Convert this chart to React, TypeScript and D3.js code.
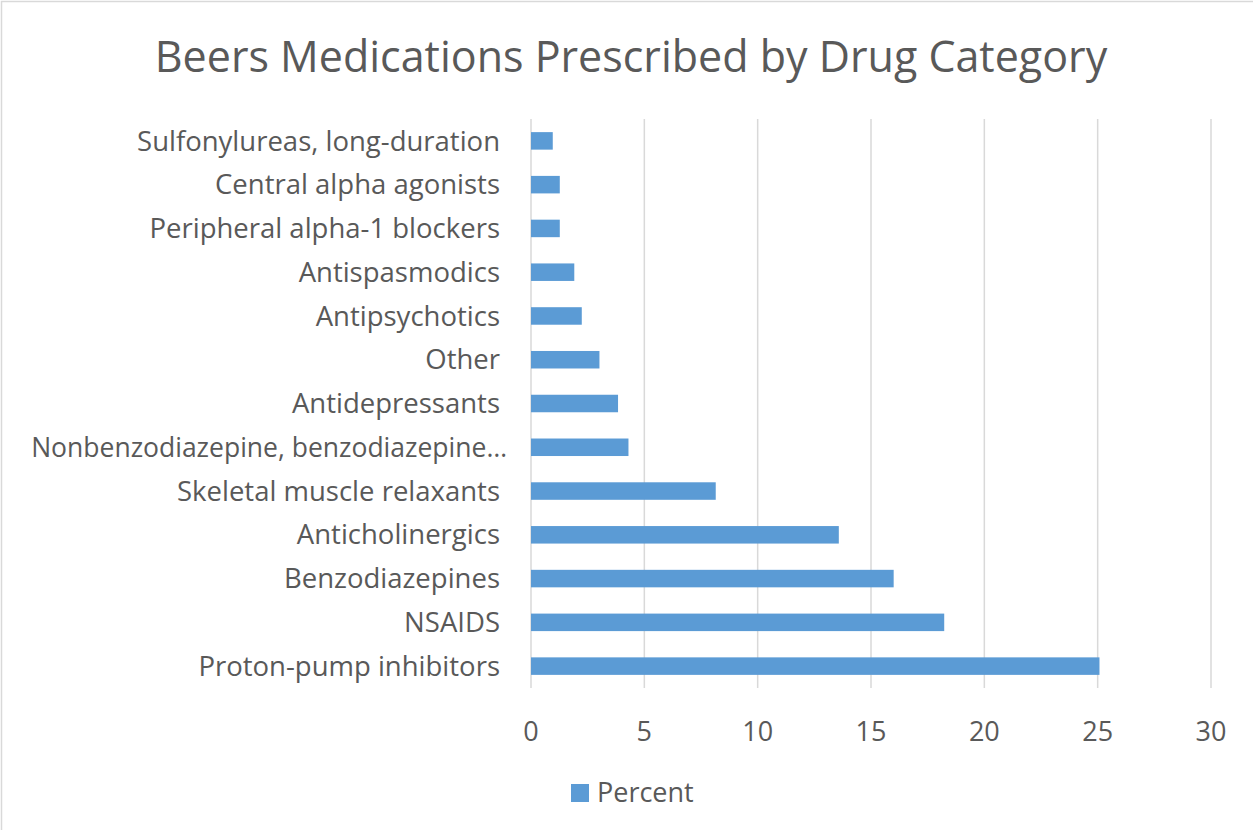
import React from "react";
import * as d3 from "d3";

const categories = [
  "Sulfonylureas, long-duration",
  "Central alpha agonists",
  "Peripheral alpha-1 blockers",
  "Antispasmodics",
  "Antipsychotics",
  "Other",
  "Antidepressants",
  "Nonbenzodiazepine, benzodiazepine…",
  "Skeletal muscle relaxants",
  "Anticholinergics",
  "Benzodiazepines",
  "NSAIDS",
  "Proton-pump inhibitors",
];
const percent = [0.96, 1.27, 1.27, 1.91, 2.24, 3.02, 3.84, 4.3, 8.15, 13.58, 16.0, 18.23, 25.08];
const xTicks = [0, 5, 10, 15, 20, 25, 30];

const W = 1253;
const H = 830;
const plot = { left: 531, right: 1211, top: 119, bottom: 688 };
const textColor = "#595959";
const font = "'Open Sans', sans-serif";

export default function App() {
  const x = d3.scaleLinear().domain([0, 30]).range([plot.left, plot.right]);
  const y = d3
    .scaleBand()
    .domain(categories)
    .range([plot.top, plot.bottom])
    .paddingInner(0.6)
    .paddingOuter(0.3);

  return (
    <svg
      width={W}
      height={H}
      style={{ position: "absolute", left: 0, top: 0, background: "#fff" }}
    >
      <rect x={1.5} y={1.5} width={W + 10} height={H + 10} fill="#fff" stroke="#d9d9d9" strokeWidth={1.5} />
      <text x={631} y={72} textAnchor="middle" fontFamily={font} fontSize={43} fill={textColor}>
        Beers Medications Prescribed by Drug Category
      </text>

      {xTicks.map((t) => (
        <line
          key={t}
          x1={x(t)}
          x2={x(t)}
          y1={plot.top}
          y2={plot.bottom}
          stroke="#d9d9d9"
          strokeWidth={1.5}
        />
      ))}

      {categories.map((c, i) => (
        <rect
          key={c}
          x={x(0)}
          y={y(c)}
          width={x(percent[i]) - x(0)}
          height={y.bandwidth()}
          fill="#5b9bd5"
        />
      ))}

      {categories.map((c) => (
        <text
          key={c}
          x={c.endsWith("…") ? 507 : 500}
          y={(y(c) as number) + y.bandwidth() / 2}
          dy="0.35em"
          textAnchor="end"
          fontFamily={font}
          fontSize={c.endsWith("…") ? 26.5 : 27.5}
          fill={textColor}
        >
          {c}
        </text>
      ))}

      {xTicks.map((t) => (
        <text
          key={t}
          x={x(t)}
          y={741}
          textAnchor="middle"
          fontFamily={font}
          fontSize={27}
          fill={textColor}
        >
          {t}
        </text>
      ))}

      <rect x={571} y={784} width={18} height={18} fill="#5b9bd5" />
      <text x={597} y={802} fontFamily={font} fontSize={27} fill={textColor}>
        Percent
      </text>
    </svg>
  );
}
